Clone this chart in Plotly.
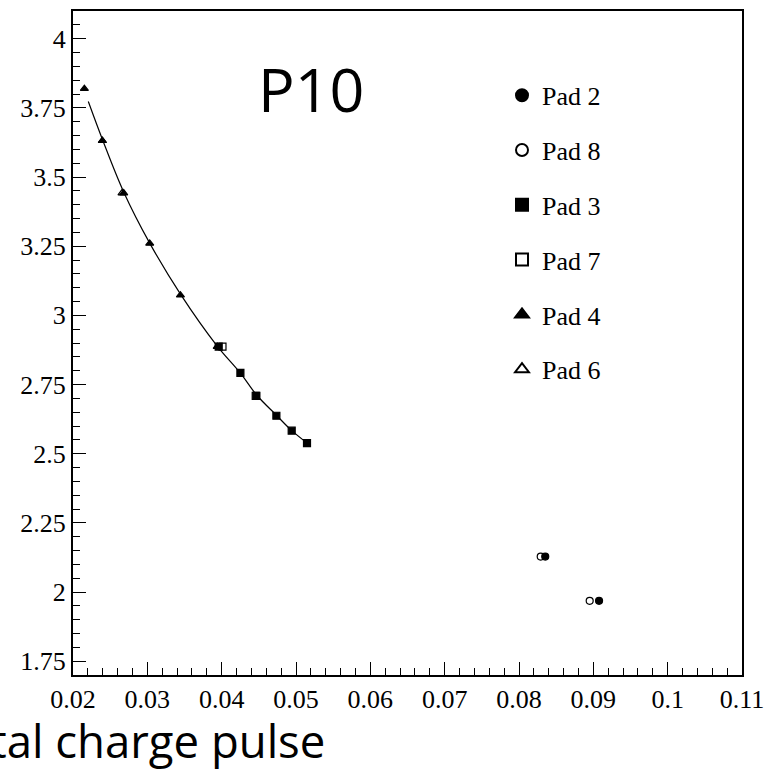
import plotly.graph_objects as go

# ---- data ----
pad2_x = [0.08353, 0.09077]
pad2_y = [2.128, 1.968]
pad8_x = [0.08292, 0.08951]
pad8_y = [2.128, 1.968]
pad3_x = [0.03960, 0.04252, 0.04467, 0.04736, 0.04942, 0.05148]
pad3_y = [2.887, 2.792, 2.709, 2.637, 2.583, 2.538]
pad7_x = [0.04011, 0.04458]
pad7_y = [2.887, 2.709]
pad4_x = [0.02153, 0.02396, 0.02682, 0.03032, 0.03445, 0.03940]
pad4_y = [3.819, 3.631, 3.442, 3.260, 3.073, 2.887]
pad6_x = [0.02394, 0.02659]
pad6_y = [3.631, 3.442]
fit_x = [0.02206, 0.0240, 0.0268, 0.0303, 0.0345, 0.0394, 0.0425, 0.0447, 0.0474, 0.0494, 0.0515]
fit_y = [3.773, 3.633, 3.447, 3.262, 3.075, 2.889, 2.792, 2.712, 2.638, 2.584, 2.538]

x_ticks = [0.02, 0.03, 0.04, 0.05, 0.06, 0.07, 0.08, 0.09, 0.1, 0.11]
x_labels = ["0.02", "0.03", "0.04", "0.05", "0.06", "0.07", "0.08", "0.09", "0.1", "0.11"]
y_ticks = [1.75, 2, 2.25, 2.5, 2.75, 3, 3.25, 3.5, 3.75, 4]
y_labels = ["1.75", "2", "2.25", "2.5", "2.75", "3", "3.25", "3.5", "3.75", "4"]

fig = go.Figure()

fig.add_trace(go.Scatter(x=fit_x, y=fit_y, mode="lines", line=dict(color="black", width=1.2, shape="spline"),
                         showlegend=False, hoverinfo="skip"))

series = [
    ("Pad 2", pad2_x, pad2_y, "circle"),
    ("Pad 8", pad8_x, pad8_y, "circle-open"),
    ("Pad 3", pad3_x, pad3_y, "square"),
    ("Pad 7", pad7_x, pad7_y, "square-open"),
    ("Pad 4", pad4_x, pad4_y, "triangle-up"),
    ("Pad 6", pad6_x, pad6_y, "triangle-up-open"),
]
order = [1, 3, 5, 0, 2, 4]  # draw open markers first, filled on top
traces = {}
for i, (name, xs, ys, sym) in enumerate(series):
    traces[i] = go.Scatter(x=xs, y=ys, mode="markers", name=name, legendgroup=name, legendrank=i + 1,
                           marker=dict(symbol=sym, size=7, color="black", line=dict(color="black", width=1.2)))
for i in order:
    fig.add_trace(traces[i])

axis_common = dict(showline=True, linecolor="black", linewidth=2, mirror=True, ticks="inside",
                   tickcolor="black", tickwidth=1.3, ticklen=13, showgrid=False, zeroline=False,
                   tickfont=dict(family="Liberation Serif", size=26, color="black"))

fig.update_xaxes(range=[0.02, 0.11], tickvals=x_ticks, ticktext=x_labels,
                 minor=dict(dtick=0.002, tick0=0.02, ticks="inside", ticklen=7, tickcolor="black", tickwidth=1.3),
                 **axis_common)
fig.update_yaxes(range=[1.7, 4.1], tickvals=y_ticks, ticktext=y_labels,
                 minor=dict(dtick=0.05, tick0=1.7, ticks="inside", ticklen=7, tickcolor="black", tickwidth=1.3),
                 **axis_common)

fig.add_annotation(text="P10", xref="paper", yref="paper", x=(311 - 73) / 669, y=1 - (87 - 9) / 666,
                   showarrow=False, font=dict(family="Open Sans", size=61, color="black"),
                   xanchor="center", yanchor="middle")
fig.add_annotation(text="Total charge pulse", xref="paper", yref="paper", x=(327 - 73) / 669,
                   y=-(740 - 675) / 666, showarrow=False,
                   font=dict(family="Open Sans", size=45.5, color="black"), xanchor="right", yanchor="middle")

fig.update_layout(
    width=781, height=769,
    margin=dict(l=73, r=39, t=9, b=94),
    paper_bgcolor="white", plot_bgcolor="white",
    legend=dict(x=(502 - 73) / 669, y=1 - (70 - 9) / 666, xanchor="left", yanchor="top",
                bgcolor="rgba(0,0,0,0)", tracegroupgap=18, itemsizing="constant",
                font=dict(family="Liberation Serif", size=26, color="black")),
)

fig.write_html("out.html")
